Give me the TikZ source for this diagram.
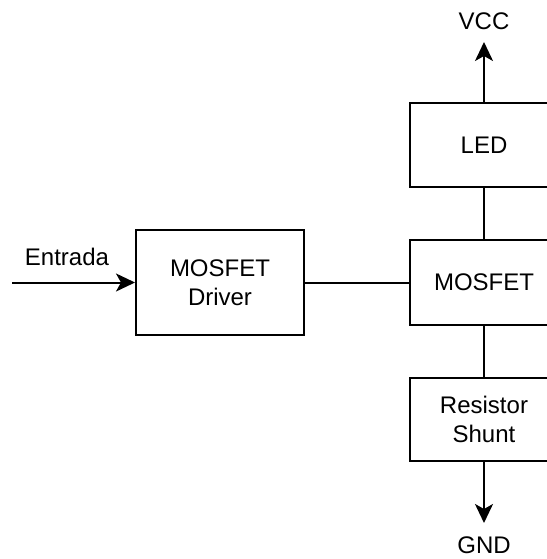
\documentclass[tikz,border=0pt]{standalone}
\usepackage{fontspec}
\setmainfont{Liberation Sans}
\usetikzlibrary{positioning, arrows.meta}

\begin{document}
\begin{tikzpicture}[
    x=1pt, y=-1pt,
    block/.style={rectangle, draw=black, line width=2pt, fill=white, minimum width=#1, align=center, font=\fontsize{24}{29}\selectfont},
    block/.default={148pt},
    lbl/.style={font=\fontsize{24}{29}\selectfont, inner sep=0pt},
    wire/.style={line width=2pt},
    arrow/.style={-{Stealth[length=19pt, width=18pt, inset=5pt]}, line width=2pt},
]
\useasboundingbox (0,0) rectangle (546,559);

% ========== COLUMN ==========
\node[block, minimum height=85pt] (mosfet) at (484, 282.5) {MOSFET};
\node[block, minimum height=84pt, above=51pt of mosfet] (led) {LED};
\node[block, minimum height=83pt, below=51pt of mosfet] (shunt) {Resistor\\Shunt};

% ========== DRIVER ==========
\node[block=168pt, minimum height=105pt, left=104pt of mosfet] (driver) {MOSFET\\Driver};

% ========== LABELS ==========
\node[lbl] (vcc) at (484, 21.5) {VCC};
\node[lbl] (gnd) at (484, 545) {GND};
\node[lbl] (entrada) at (67, 257) {Entrada};

\coordinate (in) at (12, 282.5);
\coordinate (vcctip) at (484, 42);
\coordinate (gndtip) at (484, 523);

% ========== WIRES ==========
\draw[arrow] (in) -- (driver);
\draw[wire] (driver) -- (mosfet);
\draw[wire] (led) -- (mosfet);
\draw[wire] (mosfet) -- (shunt);
\draw[arrow] (led) -- (vcctip);
\draw[arrow] (shunt) -- (gndtip);

\end{tikzpicture}
\end{document}
